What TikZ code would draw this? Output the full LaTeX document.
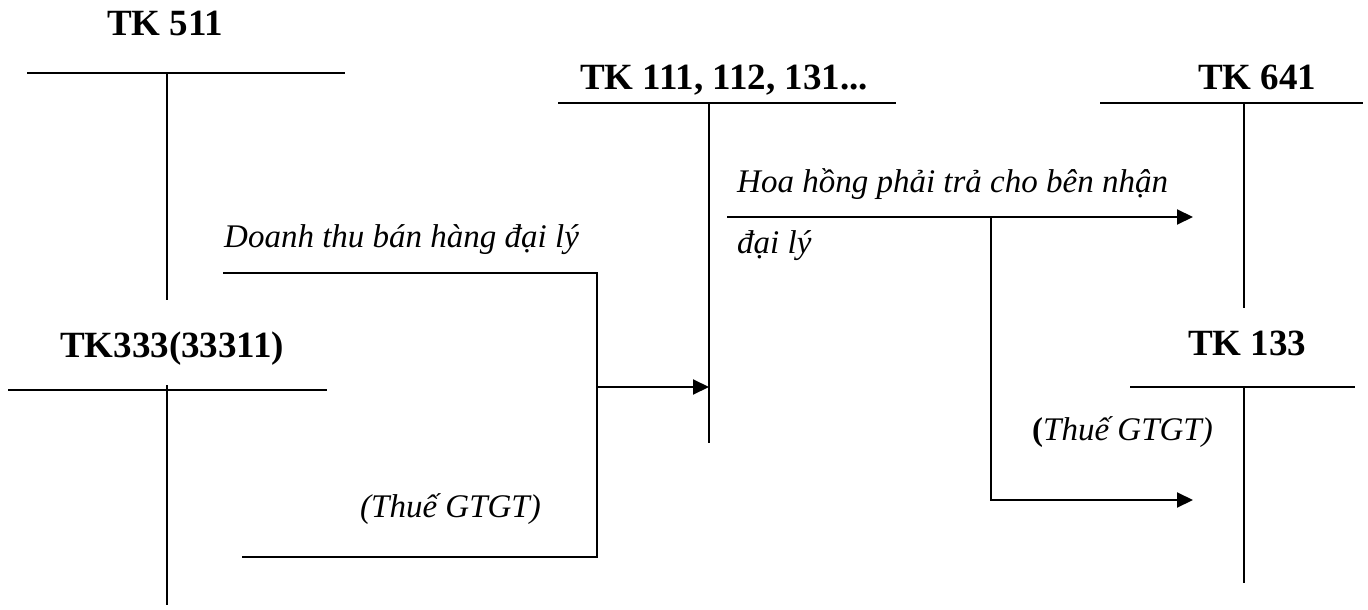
\documentclass[tikz,border=0pt]{standalone}
\usepackage{fontspec}
\setmainfont{Liberation Serif}
\usetikzlibrary{arrows.meta}
\begin{document}
\begin{tikzpicture}[x=1pt,y=-1pt,
  acct/.style={line width=1.8pt},
  thinacct/.style={line width=1.2pt},
  flow/.style={line width=2pt},
  arr/.style={flow,-{Triangle[length=16pt,width=15pt]}},
  head/.style={font=\fontsize{37}{41}\selectfont\bfseries, inner sep=0pt, anchor=base west},
  lbl/.style={font=\fontsize{33}{38}\selectfont\itshape, inner sep=0pt, anchor=base west}]
\useasboundingbox (0,0) rectangle (1368,610);

% T-account TK 511
\node[head] (h511) at (107,36) {TK 511};
\coordinate (a511L) at (27,73);  \coordinate (a511R) at (345,73);
\coordinate (a511T) at (167,73); \coordinate (a511B) at (167,300);
\draw[acct] (a511L) -- (a511R) (a511T) -- (a511B);

% T-account TK333(33311)
\node[head] (h333) at (60,357) {TK333(33311)};
\coordinate (a333L) at (8,390);  \coordinate (a333R) at (327,390);
\coordinate (a333T) at (167,385); \coordinate (a333M) at (167,524);
\coordinate (a333B) at (167,605);
\draw[acct] (a333L) -- (a333R) (a333T) -- (a333M);
\draw[thinacct] (a333M) -- (a333B);

% T-account TK 111, 112, 131...
\node[head] (h111) at (580,89) {TK 111, 112, 131...};
\coordinate (a111L) at (558,103); \coordinate (a111R) at (896,103);
\coordinate (a111T) at (709,103); \coordinate (a111B) at (709,443);
\draw[acct] (a111L) -- (a111R) (a111T) -- (a111B);

% T-account TK 641
\node[head] (h641) at (1198,89) {TK 641};
\coordinate (a641L) at (1100,103); \coordinate (a641R) at (1363,103);
\coordinate (a641T) at (1244,103); \coordinate (a641B) at (1244,308);
\draw[acct] (a641L) -- (a641R) (a641T) -- (a641B);

% T-account TK 133
\node[head] (h133) at (1188,355) {TK 133};
\coordinate (a133L) at (1130,387); \coordinate (a133R) at (1355,387);
\coordinate (a133T) at (1244,387); \coordinate (a133B) at (1244,583);
\draw[acct] (a133L) -- (a133R) (a133T) -- (a133B);

% Sales revenue and output VAT collected into cash / receivables
\coordinate (dtStart) at (223,273);
\coordinate (dtCorner) at (597,273);
\coordinate (vatCorner) at (597,557);
\coordinate (vatStart) at (242,557);
\coordinate (join1) at (597,387);
\coordinate (in111) at (709,387);
\draw[flow] (dtStart) -- (dtCorner) -- (vatCorner) -- (vatStart);
\draw[arr] (join1) -- (in111);
\node[lbl] (ldt) at (224,247) {Doanh thu bán hàng đại lý};
\node[lbl] (lvat1) at (360,517) {(Thuế GTGT)};

% Commission payable and input VAT
\coordinate (hhStart) at (727,217);
\coordinate (in641) at (1193,217);
\coordinate (join2) at (991,217);
\coordinate (in133) at (1193,500);
\draw[arr] (hhStart) -- (in641);
\draw[arr] (join2) |- (in133);
\node[lbl] (lhh1) at (737,192) {Hoa hồng phải trả cho bên nhận};
\node[lbl] (lhh2) at (737,253) {đại lý};
\node[lbl] (lvat2) at (1032,440) {{\bfseries\upshape (}Thuế GTGT)};
\end{tikzpicture}
\end{document}
